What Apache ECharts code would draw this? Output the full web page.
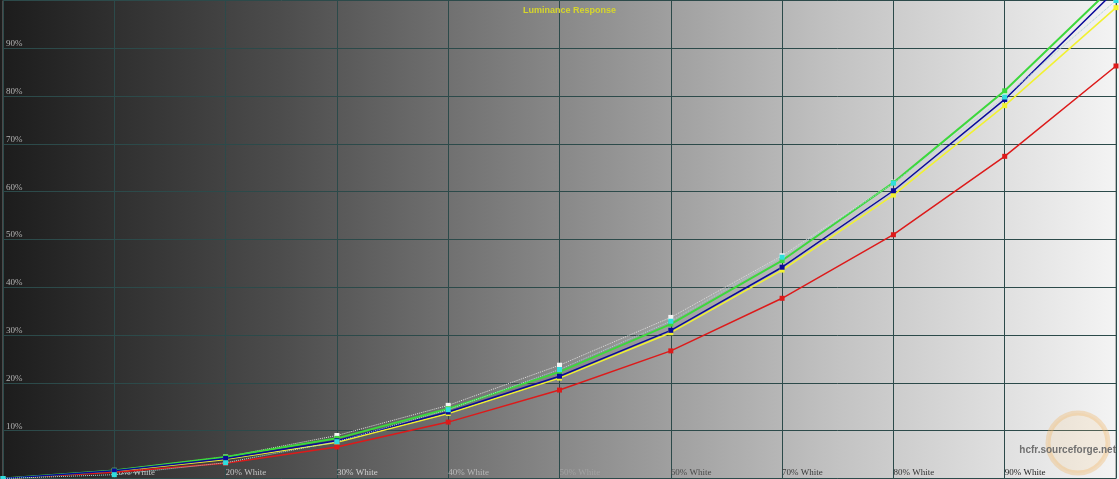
<!DOCTYPE html>
<html><head><meta charset="utf-8">
<script src="https://cdn.jsdelivr.net/npm/echarts@6/dist/echarts.min.js"></script>
<style>html,body{margin:0;padding:0;background:#fff}#c{width:1119px;height:479px}</style>
</head><body><div id="c"></div>
<script>
const xValues = [0,10,20,30,40,50,60,70,80,90,100];
const redY    = [0,1.3,3.2,6.6,11.8,18.5,26.7,37.7,51.0,67.4,86.3];
const greenY  = [0,1.7,4.5,8.4,14.6,22.3,32.3,45.6,61.9,81.1,103.5];
const blueY   = [0,1.6,4.2,7.9,13.9,21.4,31.0,44.2,60.2,79.3,102.2];
const yellowY = [0,1.5,4.0,7.6,13.6,21.0,30.5,43.6,59.3,78.0,98.5];
const cyanY   = [0,0.8,3.3,7.7,14.4,22.8,32.9,46.3,61.8,79.8,100];
const refY    = [0,1.7,4.5,9.0,15.3,23.7,33.7,46.6,62.0,80.2,100];
const xTickLabels = {10:'10% White',20:'20% White',30:'30% White',40:'40% White',50:'50% White',60:'60% White',70:'70% White',80:'80% White',90:'90% White'};
const yTickLabels = {10:'10%',20:'20%',30:'30%',40:'40%',50:'50%',60:'60%',70:'70%',80:'80%',90:'90%'};
const xLabelColors = {10:'#c4c4c4',20:'#c4c4c4',30:'#d0d0d0',40:'#b8b8b8',50:'#a2a2a2',60:'#4a4a4a',70:'#3a3a3a',80:'#333333',90:'#222222'};

function pairs(ys){ return xValues.map((x,i)=>[x, ys[i]]); }

const chart = echarts.init(document.getElementById('c'), null, {renderer:'canvas'});
function lineSeries(name, ys, color, width, opts){
  return Object.assign({
    name, type:'line', data: pairs(ys), symbol:'rect', symbolSize:5,
    lineStyle:{color, width}, itemStyle:{color}, animation:false, z:3
  }, opts||{});
}
chart.setOption({
  animation:false,
  backgroundColor:{type:'linear',x:0,y:0,x2:1,y2:0,colorStops:[
    {offset:0,color:'#1c1c1c'},{offset:0.25,color:'#4c4c4c'},{offset:0.5,color:'#888888'},
    {offset:0.75,color:'#c3c3c3'},{offset:1,color:'#f4f4f4'}]},
  title:{text:'Luminance Response',left:518,top:1,
    textStyle:{color:'#d6d62c',fontSize:9,fontWeight:'bold',fontFamily:'Liberation Sans'}},
  grid:{left:2,right:1,top:0.5,bottom:0.5,show:true,borderColor:'#7a7a7a',borderWidth:1},
  xAxis:{type:'value',min:0,max:100,interval:10,
    axisLine:{show:false},axisTick:{show:false},
    splitLine:{show:true,lineStyle:{color:'#2c4a4a',width:1}},
    axisLabel:{inside:true,margin:1,align:'left',verticalAlign:'bottom',
      fontFamily:'Liberation Serif',fontSize:9,
      formatter:v=>xTickLabels[v]||'',
      color:(v)=>xLabelColors[Math.round(Number(v))]||'#888'}},
  yAxis:{type:'value',min:0,max:100,interval:10,
    axisLine:{show:false},axisTick:{show:false},
    splitLine:{show:true,lineStyle:{color:'#2c4a4a',width:1}},
    axisLabel:{inside:true,margin:3,align:'left',verticalAlign:'bottom',
      fontFamily:'Liberation Serif',fontSize:9,color:'#b4b4b4',
      formatter:v=>yTickLabels[v]||''}},
  series:[
    lineSeries('Reference', refY, '#e8e8e8', 1, {lineStyle:{color:'#e0e0e0',width:1,type:'dotted'},itemStyle:{color:'#f4f4f4'},z:2}),
    lineSeries('Yellow', yellowY, '#f2f230', 1.5),
    lineSeries('Red', redY, '#dd1a1a', 1.5),
    lineSeries('Green', greenY, '#3cd83c', 2),
    lineSeries('Blue', blueY, '#0a0a9a', 1.5),
    lineSeries('Cyan', cyanY, '#30dede', 1, {lineStyle:{color:'#a8d8d8',width:1,type:'dotted'},z:4})
  ],
  graphic:[
    {type:'circle',shape:{cx:1078,cy:443,r:30},style:{fill:'rgba(250,205,140,0.18)',stroke:'rgba(240,180,100,0.35)',lineWidth:5},z:1},
    {type:'text',right:3,top:445,style:{text:'hcfr.sourceforge.net',fill:'#707070',font:'bold 10px "Liberation Sans"'},z:5}
  ]
});
</script></body></html>
